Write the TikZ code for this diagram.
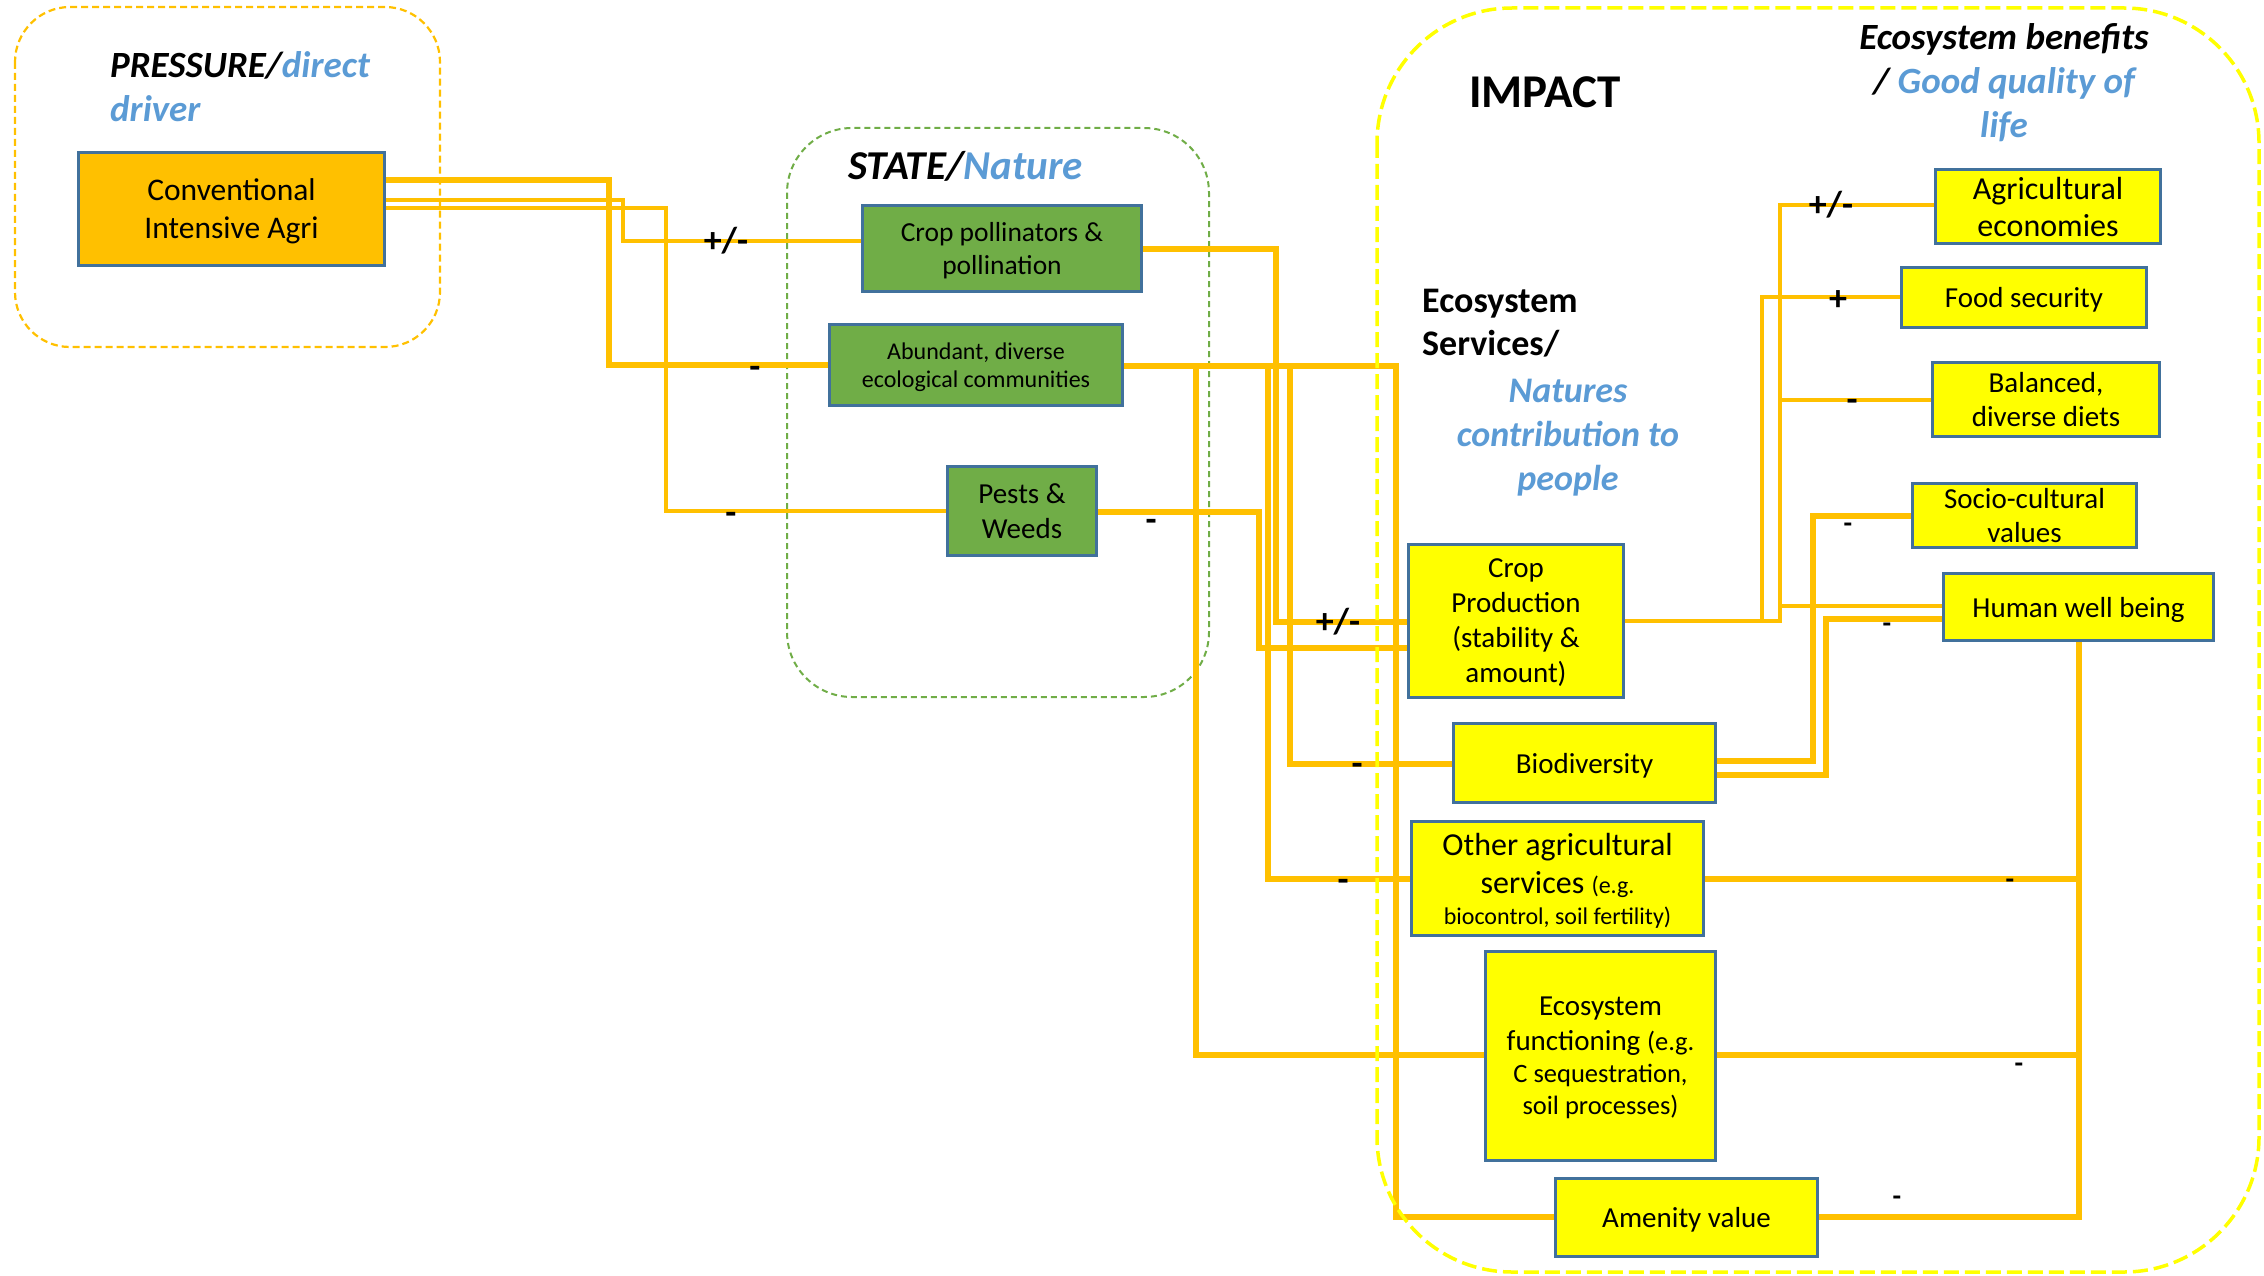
\documentclass[tikz,border=0pt]{standalone}
\usepackage{fontspec}
\setmainfont{Carlito}
\definecolor{lorange}{HTML}{FFC000}
\definecolor{lgreen}{HTML}{70AD47}
\definecolor{lyellow}{HTML}{FFFF00}
\definecolor{lborder}{HTML}{41719C}
\definecolor{tblue}{HTML}{5B9BD5}
\newcommand\fsz[2]{\fontsize{#1}{#2}\selectfont}
\begin{document}
\begin{tikzpicture}[x=1pt,y=-1pt,
  box/.style={draw=lborder, line width=2.2, inner sep=0, align=center, text depth=0pt},
  ybox/.style={box, fill=lyellow},
  gbox/.style={box, fill=lgreen},
  wthick/.style={draw=lorange, line width=6},
  wmid/.style={draw=lorange, line width=4.5},
  wthin/.style={draw=lorange, line width=3.8},
  sgn/.style={inner sep=0, anchor=base, font=\fsz{36}{40}\bfseries},
  sgs/.style={inner sep=0, anchor=base, font=\fsz{28}{34}\bfseries},
  ttl/.style={inner sep=0}]
\useasboundingbox (0,0) rectangle (2264,1276);

% containers
\draw[draw=lorange, line width=2.2, dash pattern=on 7 off 4, rounded corners=55] (15,7) rectangle (440,347);
\draw[draw=lgreen, line width=2, dash pattern=on 6 off 4, rounded corners=65] (787,128) rectangle (1209,697);

% boxes
\node[box, fill=lorange, minimum width=305, minimum height=112, font=\fsz{31.5}{38}] (conv) at (231.5,209) {Conventional\\Intensive Agri};
\node[gbox, minimum width=278, minimum height=85, font=\fsz{27.5}{33}] (poll) at (1002,248.5) {Crop pollinators \&\\pollination};
\node[gbox, minimum width=292, minimum height=80, font=\fsz{24}{28}] (abund) at (976,365) {Abundant, diverse\\ecological communities};
\node[gbox, minimum width=148, minimum height=88, font=\fsz{29}{35}] (pests) at (1022,511) {Pests \&\\Weeds};

\node[ybox, minimum width=224, minimum height=73, font=\fsz{32}{37}] (agri) at (2048,206.5) {Agricultural\\economies};
\node[ybox, minimum width=244, minimum height=59, font=\fsz{29}{35}] (food) at (2024,297.5) {Food security};
\node[ybox, minimum width=226, minimum height=73, font=\fsz{29}{34}] (bal) at (2046,399.5) {Balanced,\\diverse diets};
\node[ybox, minimum width=223, minimum height=63, font=\fsz{29}{34}] (socio) at (2024.5,515.5) {Socio-cultural\\values};
\node[ybox, minimum width=269, minimum height=66, font=\fsz{29}{35}] (hwb) at (2078.5,607) {Human well being};

\node[ybox, minimum width=214, minimum height=152, font=\fsz{29}{35}] (cropprod) at (1516,621) {Crop\\Production\\(stability \&\\amount)};
\node[ybox, minimum width=261, minimum height=78, font=\fsz{29}{35}] (bio) at (1584.5,763) {Biodiversity};
\node[ybox, minimum width=291, minimum height=113, font=\fsz{32}{38}] (other) at (1557.5,878.5) {Other agricultural\\services {\fsz{24}{29}(e.g.}\\[-7pt]{\fsz{24}{29}biocontrol, soil fertility)}};
\node[ybox, minimum width=229, minimum height=208, font=\fsz{29}{35}] (ecof) at (1600.5,1056) {Ecosystem\\functioning {\fsz{26.5}{32}(e.g.}\\[-3pt]{\fsz{26.5}{32}C sequestration,}\\[-3pt]{\fsz{26.5}{32}soil processes)}};
\node[ybox, minimum width=261, minimum height=77, font=\fsz{29}{35}] (amen) at (1686.5,1217.5) {Amenity value};

% connectors
\draw[wthick] (conv.east|-0,180) -| (609,365) -- (abund.west|-0,365);
\draw[wthin] (conv.east|-0,200) -| (623,241) -- (poll.west|-0,241);
\draw[wthin] (conv.east|-0,208) -| (666,511) -- (pests.west|-0,511);

\draw[wthick] (poll.east|-0,249) -| (1276,622) -- (cropprod.west|-0,622);

\draw[wthick] (abund.east|-0,366) -| (1396,1217) -- (amen.west|-0,1217);
\draw[wthick] (abund.east|-0,366) -| (1196,1055) -- (ecof.west|-0,1055);
\draw[wthick] (abund.east|-0,366) -| (1268,879) -- (other.west|-0,879);
\draw[wthick] (abund.east|-0,366) -| (1290,764) -- (bio.west|-0,764);

\draw[wthick] (pests.east|-0,512) -| (1259,648) -- (cropprod.west|-0,648);

\draw[wmid] (cropprod.east|-0,621) -| (1780,205) -- (agri.west|-0,205);
\draw[wmid] (cropprod.east|-0,621) -| (1762,297) -- (food.west|-0,297);
\draw[wmid] (cropprod.east|-0,621) -| (1780,400) -- (bal.west|-0,400);
\draw[wmid] (cropprod.east|-0,621) -| (1780,606) -- (hwb.west|-0,606);

\draw[wthick] (bio.east|-0,761) -| (1813,516) -- (socio.west|-0,516);
\draw[wthick] (bio.east|-0,775) -| (1826,619) -- (hwb.west|-0,619);

\draw[wthick] (other.east|-0,879) -| (hwb.south);
\draw[wthick] (ecof.east|-0,1055) -| (hwb.south);
\draw[wthick] (amen.east|-0,1217) -| (hwb.south);

% impact container
\draw[draw=lyellow, line width=3.5, dash pattern=on 15 off 6, rounded corners=135] (1377,8) rectangle (2259,1272);

% redraw box borders over line ends
\foreach \n in {conv,poll,abund,pests,agri,food,bal,socio,hwb,cropprod,bio,other,ecof,amen}
  \draw[draw=lborder, line width=2.2] (\n.north west) rectangle (\n.south east);

% titles
\node[ttl, anchor=base west] (ptitle) at (110,78) {\fsz{37}{44}\bfseries\itshape\begin{tabular}[t]{@{}l@{}}PRESSURE/\textcolor{tblue}{direct}\\\textcolor{tblue}{driver}\end{tabular}};
\node[ttl, anchor=base west] (stitle) at (848,180) {\fsz{41}{48}\bfseries\itshape STATE/\textcolor{tblue}{Nature}};
\node[ttl, anchor=base west] (ititle) at (1469,108) {\fsz{47}{54}\bfseries IMPACT};
\node[ttl, anchor=base] (btitle) at (2004,50) {\fsz{37}{44}\bfseries\itshape\begin{tabular}[t]{@{}c@{}}Ecosystem benefits\\/ \textcolor{tblue}{Good quality of}\\\textcolor{tblue}{life}\end{tabular}};
\node[ttl, anchor=base west] (estitle) at (1422,312) {\fsz{36}{43}\bfseries\begin{tabular}[t]{@{}l@{}}Ecosystem\\Services/\end{tabular}};
\node[ttl, anchor=base, text=tblue] (ncptitle) at (1568,402) {\fsz{36}{44}\bfseries\itshape\begin{tabular}[t]{@{}c@{}}Natures\\contribution to\\people\end{tabular}};

% sign labels
\node[sgn] (l1) at (726,252) {+/-};
\node[sgn] (l2) at (755,378) {-};
\node[sgn] (l3) at (731,524) {-};
\node[sgn] (l4) at (1338,633) {+/-};
\node[sgn] (l5) at (1151,531) {-};
\node[sgn] (l6) at (1357,775) {-};
\node[sgn] (l7) at (1343,891) {-};
\node[sgn] (l8) at (1831,216) {+/-};
\node[sgn] (l9) at (1838,310) {+};
\node[sgn] (l10) at (1852,411) {-};
\node[sgs] (l11) at (1848,532) {-};
\node[sgs] (l12) at (1887,632) {-};
\node[sgs] (l13) at (2010,888) {-};
\node[sgs] (l14) at (2019,1072) {-};
\node[sgs] (l15) at (1897,1205) {-};
\end{tikzpicture}
\end{document}
